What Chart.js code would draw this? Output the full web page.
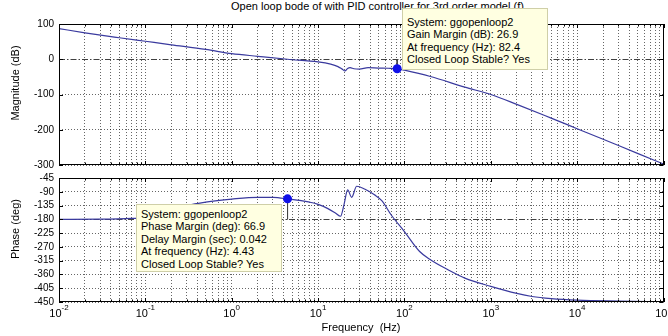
<!DOCTYPE html>
<html>
<head>
<meta charset="utf-8">
<script src="https://cdn.jsdelivr.net/npm/chart.js@4.4.1/dist/chart.umd.min.js"></script>
<style>
  html, body { margin: 0; padding: 0; background: #fff; }
  #wrap { position: relative; width: 668px; height: 336px; overflow: hidden; font-family: 'Liberation Sans', Arial, sans-serif; color: #000; }
  canvas { position: absolute; left: 0; }
  #magCanvas { top: 0; }
  #phaseCanvas { top: 166px; }
  .txt { position: absolute; white-space: pre; font-size: 11px; line-height: 13px; }
  .ylab { position: absolute; white-space: pre; font-size: 11px; transform: translate(-50%, -50%) rotate(-90deg); }
  .tip { position: absolute; box-sizing: border-box; background: #ffffe1; border: 1px solid #cfcfa8; font-size: 11px; line-height: 12.4px; padding: 3px 4px; white-space: pre; }
</style>
</head>
<body>
<div id="wrap">
  <div class="txt" style="left:231px; top:0px;">Open loop bode of with PID controller for 3rd order model (f)</div>
  <canvas id="magCanvas" width="668" height="176"></canvas>
  <canvas id="phaseCanvas" width="668" height="170"></canvas>
  <div class="ylab" style="left:15px; top:83px;">Magnitude (dB)</div>
  <div class="ylab" style="left:15px; top:229px;">Phase (deg)</div>
  <div class="txt" style="left:361px; top:321px; transform:translateX(-50%);">Frequency  (Hz)</div>
  <div class="tip" style="left:402px; top:8px; width:146px; height:62px; padding-top:7px;">System: ggopenloop2
Gain Margin (dB): 26.9
At frequency (Hz): 82.4
Closed Loop Stable? Yes</div>
  <div class="tip" style="left:136px; top:204px; width:146px; height:68px;">System: ggopenloop2
Phase Margin (deg): 66.9
Delay Margin (sec): 0.042
At frequency (Hz): 4.43
Closed Loop Stable? Yes</div>
</div>
<script>
// magnitude curve
const magFreq = [0.01, 0.02, 0.05, 0.1, 0.2, 0.5, 1, 2, 4.43, 10, 14, 17, 19, 20.5, 22, 23.5, 26, 30, 38, 50, 65, 82.4, 100, 200, 500, 1000, 2000, 5000, 10000, 20000, 50000, 100000];
const magDb = [87, 75, 61, 51, 41, 28, 16, 8.4, 0, -7.5, -14, -21, -28, -33, -26, -24, -27, -28, -24, -25, -25.5, -26.9, -31, -49, -79, -100, -128, -167, -197, -227, -267, -297];

// phase curve
const phaseFreq = [0.01, 0.03, 0.07, 0.1, 0.2, 0.3, 0.5, 1, 2, 3, 4.43, 6, 8, 10, 13, 16, 18.2, 20, 22, 24.5, 28, 35, 45, 55, 70, 100, 150, 200, 316, 500, 1000, 2000, 3000, 5000, 10000, 30000, 100000];
const phaseDeg = [-180, -179.5, -177, -174, -152, -136, -124, -114, -108, -108.5, -113.1, -118, -124, -131, -145, -160, -170, -131, -84, -108, -72, -82, -100, -120, -165, -220, -285, -312, -344, -372, -399, -422, -432, -439, -444, -447, -449];

// margins
const gmFreq = [82.4, 82.4];
const gmMag = [0, -26.9];
const pmFreq = [4.43, 4.43];
const pmPhase = [-113.1, -180];

// ticks
const xDecades = [0.01, 0.1, 1, 10, 100, 1000, 10000, 100000];
const xExponents = ['-2', '-1', '0', '1', '2', '3', '4', '5'];
const magTicks = [100, 0, -100, -200, -300];
const phaseTicks = [-45, -90, -135, -180, -225, -270, -315, -360, -405, -450];
const xGrid = [];
xDecades.forEach((d, i) => {
  if (i === xDecades.length - 1) { xGrid.push(d); return; }
  for (let k = 1; k <= 9; k++) xGrid.push(d * k);
});

const curveColor = '#3a3a9e';
const markerColor = '#1010e8';
const gridColor = 'rgba(0,0,0,0.6)';
const FONT = "'Liberation Sans', Arial, sans-serif";

Chart.defaults.font.family = FONT;
Chart.defaults.font.size = 10;
Chart.defaults.color = '#000';
Chart.defaults.animation = false;

const pts = (xs, ys) => xs.map((x, i) => ({ x, y: ys[i] }));
const isDecade = (v) => xDecades.some((d) => Math.abs(v / d - 1) < 1e-6);

// box round the plot area with inward ticks
const framePlugin = {
  id: 'frame',
  afterDatasetsDraw(chart) {
    const { ctx, chartArea: a, scales } = chart;
    ctx.save();
    ctx.strokeStyle = '#000';
    ctx.lineWidth = 1;
    ctx.strokeRect(Math.round(a.left) + 0.5, Math.round(a.top) + 0.5, Math.round(a.right - a.left) - 1, Math.round(a.bottom - a.top) - 1);
    ctx.beginPath();
    scales.x.ticks.forEach((t) => {
      const px = Math.round(scales.x.getPixelForValue(t.value)) + 0.5;
      const len = isDecade(t.value) ? 4 : 2.5;
      ctx.moveTo(px, a.bottom); ctx.lineTo(px, a.bottom - len);
      ctx.moveTo(px, a.top); ctx.lineTo(px, a.top + len);
    });
    scales.y.ticks.forEach((t) => {
      const py = Math.round(scales.y.getPixelForValue(t.value)) + 0.5;
      ctx.moveTo(a.left, py); ctx.lineTo(a.left + 4, py);
      ctx.moveTo(a.right, py); ctx.lineTo(a.right - 4, py);
    });
    ctx.stroke();
    ctx.restore();
  }
};

// 10^n labels under the phase plot
const decadeLabels = {
  id: 'decadeLabels',
  afterDraw(chart) {
    const { ctx, scales } = chart;
    ctx.save();
    ctx.fillStyle = '#000';
    ctx.textBaseline = 'alphabetic';
    xDecades.forEach((d, i) => {
      const px = scales.x.getPixelForValue(d);
      ctx.font = '11px ' + FONT;
      const w1 = ctx.measureText('10').width;
      ctx.font = '8px ' + FONT;
      const w2 = ctx.measureText(xExponents[i]).width;
      const x0 = px - (w1 + w2) / 2;
      ctx.font = '11px ' + FONT;
      ctx.fillText('10', x0, 151);
      ctx.font = '8px ' + FONT;
      ctx.fillText(xExponents[i], x0 + w1, 144);
    });
    ctx.restore();
  }
};

function xScale(height) {
  return {
    type: 'logarithmic',
    min: 0.01,
    max: 100000,
    afterBuildTicks: (s) => { s.ticks = xGrid.map((v) => ({ value: v })); },
    afterFit: (s) => { s.height = height; },
    ticks: { display: false },
    grid: { color: gridColor, lineWidth: 1, drawTicks: false },
    border: { display: false, dash: [1, 2] }
  };
}

function yScale(min, max, ticks, refValue) {
  return {
    min, max,
    afterBuildTicks: (s) => { s.ticks = ticks.map((v) => ({ value: v })); },
    afterFit: (s) => { s.width = 59; },
    ticks: { padding: 5, autoSkip: false, font: { size: 10 } },
    grid: {
      drawTicks: false,
      lineWidth: 1,
      color: (c) => (c.tick && c.tick.value === refValue ? 'rgba(0,0,0,0.75)' : gridColor)
    },
    border: {
      display: false,
      dash: (c) => (c.tick && c.tick.value === refValue ? [6, 2, 1.5, 2] : [1, 2])
    }
  };
}

new Chart(document.getElementById('magCanvas'), {
  type: 'line',
  data: {
    datasets: [
      { data: [{ x: gmFreq[1], y: gmMag[1] }], showLine: false, pointRadius: 4.5, pointBackgroundColor: markerColor, pointBorderColor: markerColor, pointBorderWidth: 0 },
      { data: pts(gmFreq, gmMag), borderColor: '#444', borderWidth: 1, pointRadius: 0 },
      { data: pts(magFreq, magDb), borderColor: curveColor, borderWidth: 1.2, pointRadius: 0, cubicInterpolationMode: 'monotone' }
    ]
  },
  options: {
    responsive: false,
    layout: { padding: { left: 0, right: 3, top: 24, bottom: 10 } },
    plugins: { legend: { display: false }, tooltip: { enabled: false } },
    scales: { x: xScale(0), y: yScale(-300, 100, magTicks, 0) }
  },
  plugins: [framePlugin]
});

new Chart(document.getElementById('phaseCanvas'), {
  type: 'line',
  data: {
    datasets: [
      { data: [{ x: pmFreq[0], y: pmPhase[0] }], showLine: false, pointRadius: 4.5, pointBackgroundColor: markerColor, pointBorderColor: markerColor, pointBorderWidth: 0 },
      { data: pts(pmFreq, pmPhase), borderColor: '#444', borderWidth: 1, pointRadius: 0 },
      { data: pts(phaseFreq, phaseDeg), borderColor: curveColor, borderWidth: 1.2, pointRadius: 0, cubicInterpolationMode: 'monotone' }
    ]
  },
  options: {
    responsive: false,
    layout: { padding: { left: 0, right: 3, top: 12, bottom: 0 } },
    plugins: { legend: { display: false }, tooltip: { enabled: false } },
    scales: { x: xScale(34), y: yScale(-450, -45, phaseTicks, -180) }
  },
  plugins: [framePlugin, decadeLabels]
});
</script>
</body>
</html>
